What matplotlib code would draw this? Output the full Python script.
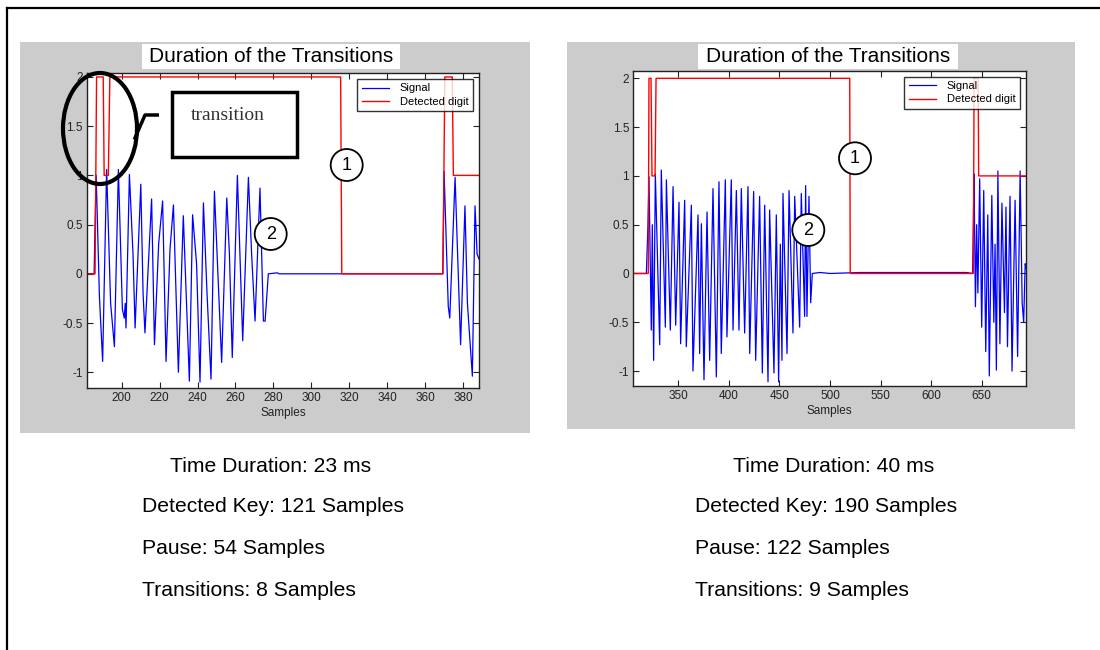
import matplotlib
matplotlib.use('Agg')
import matplotlib.pyplot as plt
from matplotlib.patches import Rectangle, Ellipse, Circle

plt.rcParams['font.family'] = ['Liberation Sans', 'DejaVu Sans']

W, H = 1100, 650

# ---- data ----
# left panel: signal (samples, amplitude)
left_sig_x = [181.6, 185.5, 186.0, 186.6, 188.3, 190.0, 192.1, 194.2, 196.2, 198.3,
              200.4, 201.4, 201.9, 202.3, 204.1, 206.0, 207.1, 210.1, 211.3, 212.3,
              215.8, 217.3, 219.5, 221.6, 223.4, 225.5, 227.3, 229.9, 232.5, 235.7,
              237.4, 239.5, 241.3, 243.1, 245.0, 247.1, 248.9, 252.7, 255.4, 256.8,
              258.3, 261.0, 263.8, 266.8, 268.5, 270.3, 272.9, 274.7, 275.6, 277.3,
              282.0, 283.0, 369.2, 369.9, 372.1, 372.9, 375.7, 378.6, 380.9, 382.2,
              384.8, 386.2, 387.3, 388.3]
left_sig_y = [0, 0, 0.5, 1.0, -0.23, -0.89, 1.06, -0.3, -0.74, 1.06,
              -0.36, -0.45, -0.3, -0.55, 1.01, 0.2, -0.55, 0.91, -0.2, -0.6,
              0.76, -0.72, 0.3, 0.74, -0.89, 0.25, 0.7, -1.0, 0.59, -1.09,
              0.6, 0.1, -1.1, 0.72, -0.2, -1.07, 0.84, -0.9, 0.77, 0.2,
              -0.85, 1.0, -0.68, 0.98, 0.2, -0.48, 0.87, -0.48, -0.48, 0,
              0.01, 0, 0, 1.04, -0.33, -0.45, 0.98, -0.72, 0.69, -0.3,
              -1.04, 0.69, 0.2, 0.15]
# left panel: detected digit
left_dig_x = [181.6, 186.0, 186.8, 190.3, 190.8, 193.0, 193.8, 315.4, 316.0,
              369.3, 370.3, 374.2, 374.8, 388.3]
left_dig_y = [0, 0, 2, 2, 1, 1, 2, 2, 0, 0, 2, 2, 1, 1]

# right panel: signal
right_sig_x = [305.5, 318.4, 320.0, 321.0, 323.3, 324.3, 325.6, 327.3, 331.6, 333.2,
               337.2, 338.2, 342.1, 344.8, 347.4, 350.7, 352.3, 356.3, 357.9, 362.9,
               364.5, 369.5, 371.1, 372.8, 375.4, 378.4, 381.0, 384.3, 387.6, 390.2,
               392.5, 396.5, 398.1, 402.4, 404.1, 407.4, 410.0, 412.3, 415.6, 418.9,
               420.6, 424.5, 426.5, 430.4, 433.1, 435.4, 438.7, 440.3, 444.6, 446.9,
               449.2, 450.9, 452.5, 453.5, 457.5, 459.5, 463.4, 465.1, 470.0, 471.6,
               474.9, 475.9, 477.2, 479.2, 480.9, 482.5, 490.0, 500.0, 530.0, 560.0,
               600.0, 635.0, 641.0, 641.7, 642.4, 643.8, 645.0, 646.2, 648.0, 650.0,
               652.0, 654.0, 656.0, 657.5, 660.0, 662.0, 663.2, 664.5, 666.0, 668.0,
               670.0, 672.5, 674.0, 675.5, 678.0, 680.0, 683.0, 685.5, 688.0, 690.0,
               691.5, 693.0, 694.0]
right_sig_y = [0, 0, 0.5, 0.99, -0.58, 0.5, -0.89, 1.02, -0.73, 1.06,
               -0.55, 0.96, -0.58, 0.89, -0.53, 0.73, -0.72, 0.75, -0.75, 0.7,
               -1.0, 0.6, -0.82, 0.51, -1.09, 0.63, -0.89, 0.87, -1.06, 0.94,
               -0.82, 0.96, -0.65, 0.96, -0.58, 0.85, -0.58, 0.87, -0.61, 0.89,
               -0.82, 0.84, -0.89, 0.79, -1.02, 0.7, -1.11, 0.65, -1.02, 0.6,
               -1.11, 0.3, -0.89, 0.82, -0.82, 0.85, -0.61, 0.79, -0.55, 0.82,
               -0.44, 0.9, -0.44, 0.79, -0.3, 0, 0.01, 0, 0.01, 0.01,
               0.01, 0.01, 0, 0.5, 1.02, -0.34, 0.5, -0.2, 0.97, -0.55,
               0.85, -0.8, 0.6, -1.05, 0.8, -0.5, 0.3, -0.99, 1.05, -0.72,
               0.72, -0.4, 0.68, -0.75, 0.79, -1.0, 0.75, -0.85, 1.05, -0.3,
               -0.5, 0.1, 0.05]
# right panel: detected digit
right_dig_x = [305.5, 320.3, 321.0, 323.0, 324.0, 327.0, 328.0, 519.5, 520.0,
               641.7, 642.5, 646.5, 647.0, 694.0]
right_dig_y = [0, 0, 2, 2, 1, 1, 2, 2, 0, 0, 2, 2, 1, 1]

left_xticks = [200, 220, 240, 260, 280, 300, 320, 340, 360, 380]
right_xticks = [350, 400, 450, 500, 550, 600, 650]
yticks = [-1, -0.5, 0, 0.5, 1, 1.5, 2]
ytick_labels = ['-1', '-0.5', '0', '0.5', '1', '1.5', '2']

title = 'Duration of the Transitions'
left_notes = ['Detected Key: 121 Samples', 'Pause: 54 Samples', 'Transitions: 8 Samples']
right_notes = ['Detected Key: 190 Samples', 'Pause: 122 Samples', 'Transitions: 9 Samples']
left_time = 'Time Duration: 23 ms'
right_time = 'Time Duration: 40 ms'


def frac(x0, y0, x1, y1):
    """pixel box (top-left origin) -> figure fraction rect"""
    return [x0 / W, 1 - y1 / H, (x1 - x0) / W, (y1 - y0) / H]


fig = plt.figure(figsize=(W / 100, H / 100), dpi=100, facecolor='white')

# background layer: gray panels + outer frame
bg = fig.add_axes([0, 0, 1, 1], zorder=0)
bg.set_xlim(0, W)
bg.set_ylim(H, 0)
bg.axis('off')
gray = '#cccccc'
bg.add_patch(Rectangle((20, 42), 510, 391, facecolor=gray, edgecolor='none'))
bg.add_patch(Rectangle((567, 42), 508, 387, facecolor=gray, edgecolor='none'))
bg.plot([7, 7], [8, H], color='black', lw=1.6)
bg.plot([7, W], [8, 8], color='black', lw=1.6)


def panel(rect, sx, sy, dx, dy, xlim, ylim, xticks, leg_anchor):
    ax = fig.add_axes(rect, zorder=1)
    ax.plot(sx, sy, color='#0000ff', lw=0.9, label='Signal')
    ax.plot(dx, dy, color='#ff0000', lw=1.0, label='Detected digit')
    ax.set_xlim(*xlim)
    ax.set_ylim(*ylim)
    ax.set_xticks(xticks)
    ax.set_yticks(yticks)
    ax.set_yticklabels(ytick_labels)
    ax.tick_params(direction='in', top=True, right=True, length=4,
                   labelsize=8.5, pad=3, colors='#222222', width=0.8)
    for sp in ax.spines.values():
        sp.set_color('#222222')
        sp.set_linewidth(1.0)
    ax.set_xlabel('Samples', fontsize=8.5, labelpad=2, color='#222222')
    leg = ax.legend(loc='upper right', bbox_to_anchor=leg_anchor, fontsize=8,
                    frameon=True, fancybox=False, borderaxespad=0,
                    handlelength=2.4, borderpad=0.4, labelspacing=0.3,
                    handletextpad=1.0)
    leg.get_frame().set_edgecolor('black')
    leg.get_frame().set_linewidth(1.0)
    return ax


panel(frac(86.7, 73, 479, 388), left_sig_x, left_sig_y, left_dig_x, left_dig_y,
      (181.6, 388.3), (-1.16, 2.04), left_xticks, (0.984, 0.981))
panel(frac(633.3, 71, 1026, 385.7), right_sig_x, right_sig_y, right_dig_x, right_dig_y,
      (305.5, 693.8), (-1.15, 2.075), right_xticks, (0.984, 0.982))

# overlay layer: titles, annotations, text below
ov = fig.add_axes([0, 0, 1, 1], zorder=5)
ov.set_xlim(0, W)
ov.set_ylim(H, 0)
ov.axis('off')
ov.patch.set_visible(False)

for x0, x1 in [(141.7, 400), (698.3, 957.7)]:
    ov.add_patch(Rectangle((x0, 44), x1 - x0, 25, facecolor='white', edgecolor='none'))
    ov.text((x0 + x1) / 2, 56.5, title, fontsize=15, ha='center', va='center')

# ellipse + callout + box on the left panel
ov.add_patch(Ellipse((100, 128.5), 74, 111, fill=False, edgecolor='black', lw=3))
ov.plot([135, 145, 157.3], [138, 115, 115], color='black', lw=2.5)
ov.add_patch(Rectangle((171.7, 91.7), 125, 65, fill=False, edgecolor='black', lw=2.5))
ov.text(228, 115, 'transition', fontsize=14, family=['Liberation Serif', 'DejaVu Serif'],
        ha='center', va='center', color='#333333')

# numbered circles
for cx, cy, s in [(346.7, 165, '1'), (270.7, 234, '2'), (855, 158.3, '1'), (808.3, 230, '2')]:
    ov.add_patch(Circle((cx, cy), 16, facecolor='white', edgecolor='black', lw=1.3))
    ov.text(cx, cy + 0.5, s, fontsize=13, ha='center', va='center')

# text below the panels
ov.text(170, 466, left_time, fontsize=15.2, ha='left', va='center')
ov.text(733, 466, right_time, fontsize=15.2, ha='left', va='center')
for i, (a, b) in enumerate(zip(left_notes, right_notes)):
    y = 506 + i * 42
    ov.text(142, y, a, fontsize=15.2, ha='left', va='center')
    ov.text(695, y, b, fontsize=15.2, ha='left', va='center')

fig.savefig('out.png', dpi=100, facecolor='white')
